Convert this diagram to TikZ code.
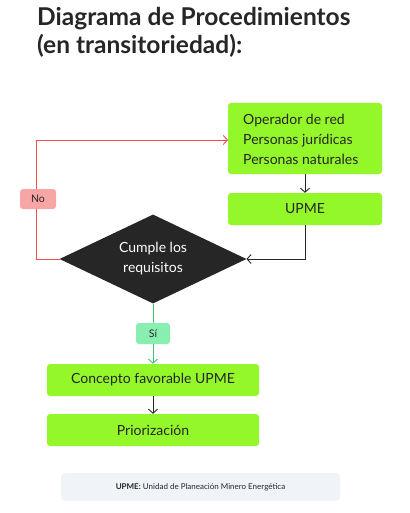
\documentclass[tikz,border=0pt]{standalone}
\usepackage{fontspec}
\setmainfont{Lato}
\usetikzlibrary{arrows.meta,shapes.geometric}
\definecolor{lime}{HTML}{94F72A}
\definecolor{ink}{HTML}{262626}
\definecolor{redline}{HTML}{F04E4E}
\definecolor{nofill}{HTML}{F8A5A5}
\definecolor{greenline}{HTML}{3CC873}
\definecolor{sifill}{HTML}{88EFB0}
\definecolor{notebg}{HTML}{F0F3F8}
\tikzset{
  box/.style={fill=lime, rounded corners=3pt, text=ink, font=\fontsize{14}{16}\selectfont},
  lbl/.style={rounded corners=3pt, text=ink, font=\fontsize{10.5}{12}\selectfont, minimum width=36pt, minimum height=20pt, inner sep=0pt},
  flow/.style={draw=ink, line width=0.9pt, -{Straight Barb[length=4pt,width=9pt]}},
}
\begin{document}
\begin{tikzpicture}[x=1pt,y=-1pt]
\useasboundingbox (0,0) rectangle (409,513);
% title
\node[anchor=west, text=ink, font=\fontsize{24.5}{28}\bfseries\selectfont, align=left, inner sep=0pt] (title) at (37,32) {Diagrama de Procedimientos\\(en transitoriedad):};
% boxes
\path[box] (228,103) rectangle (382,174);
\node[box, fill=none, anchor=west, align=left, inner sep=0pt, font=\fontsize{14}{20}\selectfont] (b1) at (243,139) {Operador de red\\Personas jurídicas\\Personas naturales};
\coordinate (b1top) at (305,103);
\coordinate (b1bot) at (305,174);
\coordinate (b1left) at (228,140);
\node[box, minimum width=154pt, minimum height=32pt, inner sep=0pt] (upme) at (305,209) {UPME};
\node[diamond, fill=ink, minimum width=187pt, minimum height=89pt, inner sep=0pt, aspect=2.1, text=white, align=center] (dec) at (153,259) {};
\node[text=white, align=center, font=\fontsize{14}{20}\selectfont] (dectext) at (153,259) {Cumple los\\requisitos};
\coordinate (dl) at (59.5,259);
\coordinate (dr) at (246.5,259);
\coordinate (db) at (153,303.5);
\node[box, minimum width=212pt, minimum height=32pt, inner sep=0pt] (conc) at (153,380) {Concepto favorable UPME};
\node[box, minimum width=212pt, minimum height=32pt, inner sep=0pt] (prio) at (153,430) {Priorización};
% connectors
\draw[flow] (b1bot) -- (upme.north);
\draw[flow] (upme.south) |- (dr);
\coordinate (rc1) at (36,259);
\coordinate (rc2) at (36,140);
\draw[redline, line width=0.9pt, -{Straight Barb[length=4pt,width=9pt]}] (dl) -- (rc1) -- (rc2) -- (b1left);
\node[lbl, fill=nofill] (no) at (38,199) {No};
\draw[greenline, line width=0.9pt, -{Straight Barb[length=4pt,width=9pt]}] (db) -- (conc.north);
\node[lbl, fill=sifill, minimum width=34pt, minimum height=21pt] (si) at (153,333.5) {Sí};
\draw[flow] (conc.south) -- (prio.north);
% note
\node[fill=notebg, rounded corners=4pt, minimum width=279pt, minimum height=28pt, inner sep=0pt, text=ink, font=\fontsize{8}{9}\selectfont] (note) at (200.5,487) {\textbf{UPME:} Unidad de Planeación Minero Energética};
\end{tikzpicture}
\end{document}
